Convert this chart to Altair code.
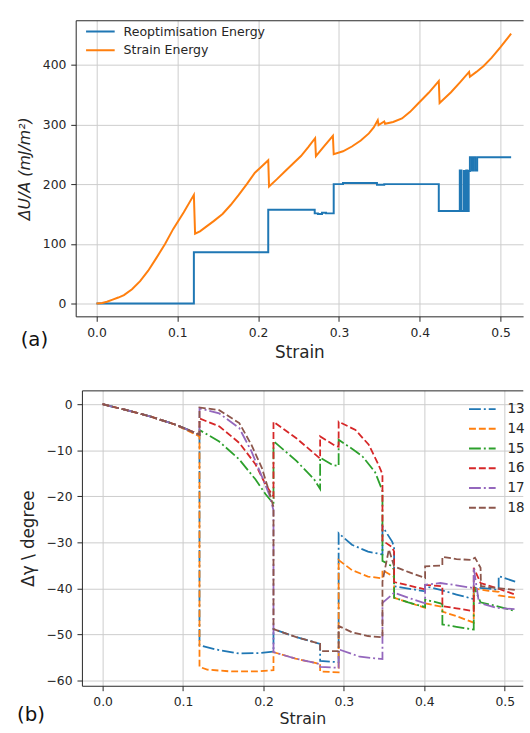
import altair as alt
import pandas as pd

# ---------------- panel (a) ----------------
reopt_x = [0.0, 0.1205, 0.1205, 0.2125, 0.2125, 0.27, 0.27, 0.274, 0.274, 0.279, 0.279, 0.284,
           0.284, 0.2935, 0.2935, 0.305, 0.305, 0.347, 0.347, 0.356, 0.356, 0.4235, 0.4235, 0.4495,
           0.4495, 0.4515, 0.4515, 0.4545, 0.4545, 0.456, 0.456, 0.4575, 0.4575, 0.459, 0.459, 0.4605,
           0.4605, 0.462, 0.462, 0.4645, 0.4645, 0.466, 0.466, 0.4685, 0.4685, 0.471, 0.471, 0.513]
reopt_y = [0, 0, 86, 86, 157, 157, 151, 151, 150, 150, 152, 152,
           151, 151, 200, 200, 202, 202, 199, 199, 200, 200, 155, 155,
           223, 223, 155, 155, 222, 222, 155, 155, 223, 223, 155, 155,
           222, 222, 245, 245, 223, 223, 245, 245, 223, 223, 245, 245]

strain_x = [0.0, 0.007, 0.013, 0.02, 0.027, 0.034, 0.044, 0.054, 0.064, 0.074, 0.085, 0.095,
            0.108, 0.1205, 0.122, 0.128, 0.135, 0.145, 0.156, 0.166, 0.176, 0.186, 0.196, 0.204,
            0.2125, 0.2135, 0.223, 0.233, 0.243, 0.253, 0.262, 0.2705, 0.2715, 0.282, 0.2925,
            0.2935, 0.305, 0.316, 0.327, 0.337, 0.343, 0.348, 0.349, 0.356, 0.357, 0.367, 0.378,
            0.388, 0.398, 0.411, 0.4235, 0.4245, 0.4386, 0.45, 0.461, 0.462, 0.47, 0.479, 0.489,
            0.4996, 0.513]
strain_y = [0, 1, 3, 6.5, 10, 14, 24, 37.5, 55, 76, 100, 125,
            153, 182, 117, 121, 128, 138, 150, 165, 182, 200, 219, 229,
            240, 196, 208, 221, 234, 247, 262, 277, 247, 264, 281,
            250, 255, 263, 273, 285, 295, 307, 299, 305, 301, 304, 310,
            321, 335, 353, 372.5, 336, 354, 371, 388, 380, 388, 398, 412,
            429, 452]

top_names = ["Reoptimisation Energy", "Strain Energy"]
top_colors = ["#1f77b4", "#ff7f0e"]

# ---------------- panel (b) ----------------
b_names = ["13", "14", "15", "16", "17", "18"]
b_colors = ["#1f77b4", "#ff7f0e", "#2ca02c", "#d62728", "#9467bd", "#8c564b"]

s13_x = [0, 0.03, 0.06, 0.09, 0.1205, 0.1205, 0.14, 0.17, 0.195, 0.2125, 0.2125, 0.24, 0.2705,
         0.2705, 0.2935, 0.2935, 0.31, 0.33, 0.348, 0.348, 0.36, 0.3625, 0.3625, 0.38, 0.401,
         0.401, 0.42, 0.44, 0.4615, 0.4615, 0.48, 0.4925, 0.4925, 0.513]
s13_y = [0, -1.3, -2.7, -4.4, -6.6, -52.3, -53.2, -54.1, -54.0, -53.7, -48.8, -50.5, -52.0,
         -55.7, -56.0, -28.0, -30.5, -32.0, -32.6, -26.5, -29.8, -31.0, -39.5, -40.0, -40.6,
         -39.5, -40.3, -41.3, -42.3, -39.8, -40.0, -40.3, -37.3, -38.5]

s14_x = [0, 0.03, 0.06, 0.09, 0.1205, 0.1205, 0.13, 0.16, 0.19, 0.2125, 0.2125, 0.24, 0.2705,
         0.2705, 0.2935, 0.2935, 0.31, 0.33, 0.348, 0.348, 0.3625, 0.3625, 0.38, 0.401, 0.401,
         0.4225, 0.4225, 0.44, 0.4615, 0.4615, 0.48, 0.4925, 0.4925, 0.513]
s14_y = [0, -1.3, -2.7, -4.4, -7.0, -57.0, -57.6, -58.0, -58.0, -57.7, -53.8, -55.2, -56.4,
         -58.0, -58.2, -33.8, -36.0, -37.4, -37.8, -36.0, -37.5, -42.0, -43.0, -44.2, -43.2,
         -44.0, -45.0, -46.0, -47.4, -40.0, -40.5, -40.7, -41.5, -42.0]

s15_x = [0, 0.03, 0.06, 0.09, 0.1205, 0.1205, 0.145, 0.17, 0.19, 0.2025, 0.2125, 0.2125, 0.241,
         0.263, 0.2705, 0.2705, 0.286, 0.2935, 0.2935, 0.3145, 0.323, 0.339, 0.348, 0.348, 0.36,
         0.3625, 0.3625, 0.38, 0.401, 0.401, 0.42, 0.4225, 0.4225, 0.44, 0.4615, 0.4615, 0.47,
         0.49, 0.513]
s15_y = [0, -1.3, -2.7, -4.4, -6.6, -5.6, -8.1, -12.0, -16.3, -19.5, -21.6, -8.0, -12.3,
         -16.3, -18.4, -11.6, -13.2, -13.4, -7.7, -10.2, -11.3, -14.8, -18.8, -34.0, -35.2,
         -36.0, -42.0, -43.0, -44.0, -42.4, -43.2, -43.4, -47.8, -48.3, -48.9, -39.5, -43.0,
         -43.8, -44.9]

s16_x = [0, 0.03, 0.06, 0.09, 0.1205, 0.1205, 0.145, 0.17, 0.19, 0.2025, 0.2125, 0.2125, 0.241,
         0.2705, 0.2705, 0.29, 0.2935, 0.2935, 0.3145, 0.331, 0.343, 0.348, 0.348, 0.36, 0.3625,
         0.3625, 0.38, 0.401, 0.401, 0.4225, 0.4225, 0.44, 0.4615, 0.4615, 0.47, 0.49, 0.513]
s16_y = [0, -1.3, -2.7, -4.4, -6.6, -3.1, -4.8, -8.4, -13.0, -17.4, -20.0, -3.8, -7.4,
         -11.8, -7.0, -9.1, -9.2, -3.8, -5.6, -8.8, -13.1, -15.2, -29.6, -31.0, -32.0,
         -38.6, -39.3, -40.2, -39.2, -39.5, -43.8, -44.3, -44.9, -35.5, -38.8, -39.9, -41.3]

s17_x = [0, 0.03, 0.06, 0.09, 0.1205, 0.1205, 0.145, 0.17, 0.185, 0.196, 0.207, 0.2125, 0.2125,
         0.24, 0.2705, 0.2705, 0.2935, 0.2935, 0.32, 0.348, 0.348, 0.36, 0.3625, 0.38, 0.401,
         0.401, 0.42, 0.44, 0.4615, 0.4615, 0.468, 0.49, 0.513]
s17_y = [0, -1.3, -2.7, -4.4, -6.6, -0.9, -2.0, -5.2, -10.2, -14.8, -19.5, -23.0, -53.8,
         -55.2, -56.4, -57.0, -57.2, -53.2, -54.8, -55.3, -43.1, -41.3, -40.9, -42.0, -43.2,
         -39.2, -38.8, -39.3, -39.9, -35.5, -43.1, -44.2, -44.5]

s18_x = [0, 0.03, 0.06, 0.09, 0.1205, 0.1205, 0.145, 0.17, 0.185, 0.198, 0.208, 0.2125, 0.2125,
         0.24, 0.2705, 0.2705, 0.2935, 0.2935, 0.31, 0.33, 0.348, 0.348, 0.356, 0.3625, 0.38,
         0.401, 0.401, 0.4225, 0.4225, 0.44, 0.458, 0.463, 0.47, 0.4705, 0.49, 0.513]
s18_y = [0, -1.3, -2.7, -4.4, -6.6, -0.7, -1.3, -4.1, -8.8, -13.8, -19.5, -22.3, -48.8,
         -50.5, -52.0, -53.6, -53.6, -48.1, -49.5, -50.3, -50.6, -38.5, -31.5, -35.2, -36.4,
         -37.7, -35.2, -35.0, -33.1, -33.6, -33.8, -33.3, -35.5, -39.5, -39.9, -40.3]

x_ticks = [0.0, 0.1, 0.2, 0.3, 0.4, 0.5]
top_y_ticks = [0, 100, 200, 300, 400]
b_y_ticks = [0, -10, -20, -30, -40, -50, -60]

# ---------------- tables ----------------
rows = []
for name, xs, ys in [(top_names[0], reopt_x, reopt_y), (top_names[1], strain_x, strain_y)]:
    for i, (a, b) in enumerate(zip(xs, ys)):
        rows.append({"energy_kind": name, "strain": a, "energy": b, "i": i})
top_df = pd.DataFrame(rows)

rows = []
for name, xs, ys in zip(b_names, [s13_x, s14_x, s15_x, s16_x, s17_x, s18_x],
                        [s13_y, s14_y, s15_y, s16_y, s17_y, s18_y]):
    for i, (a, b) in enumerate(zip(xs, ys)):
        rows.append({"curve": name, "strain": a, "gamma": b, "i": i})
b_df = pd.DataFrame(rows)

FONT = "DejaVu Sans"
TXT = "#262626"

# shared scales / axes per panel
top_xs = alt.Scale(domain=[-0.0257, 0.5278], range=[-6.3, 447], nice=False, zero=False)
top_ys = alt.Scale(domain=[-21.5, 474.5], nice=False, zero=False)
b_xs = alt.Scale(domain=[-0.0257, 0.5225], nice=False, zero=False)
b_ys = alt.Scale(domain=[-61.1, 3.0], nice=False, zero=False)

top_y_axis = alt.Axis(values=top_y_ticks, title="ΔU/A  (mJ/m²)", titleFontSize=16,
                      titleFontStyle="italic", titlePadding=9.6, offset=6.3)
b_y_axis = alt.Axis(values=b_y_ticks, title="Δγ \\ degree", titleFontSize=17, titlePadding=9)
frame_axis = alt.Axis(orient="top", labels=False, ticks=False, grid=False, domain=True, title=None)

top_lines = alt.Chart(top_df).mark_line(strokeWidth=2).encode(
    x=alt.X("strain:Q", scale=top_xs,
            axis=alt.Axis(values=x_ticks, format=".1f", title="Strain", titlePadding=6)),
    y=alt.Y("energy:Q", scale=top_ys, axis=top_y_axis),
    color=alt.Color("energy_kind:N",
                    scale=alt.Scale(domain=top_names, range=top_colors),
                    legend=alt.Legend(title=None, orient="none", legendX=3.2, legendY=4,
                                      symbolType="stroke", symbolSize=841, symbolStrokeWidth=2,
                                      labelFontSize=12.7, labelOffset=8, clipHeight=15,
                                      rowPadding=4, padding=0)),
    order=alt.Order("i:Q"),
)
top_frame = alt.Chart(top_df).mark_line(opacity=0).encode(
    x=alt.X("strain:Q", scale=top_xs, axis=frame_axis),
    y=alt.Y("energy:Q", scale=top_ys, axis=top_y_axis),
    detail="energy_kind:N",
    order=alt.Order("i:Q"),
)
top = alt.layer(top_lines, top_frame).resolve_axis(x="independent").properties(
    width=447, height=300,
    title=alt.TitleParams("(a)", orient="bottom", anchor="start", frame="group",
                          dx=-62.1, dy=-34, fontSize=20),
)

dash_range = [[12, 3, 2, 3], [7, 3], [12, 3, 2, 3], [7, 3], [12, 3, 2, 3], [7, 3]]
b_legend = alt.Legend(title=None, orient="none", legendX=391.2, legendY=11,
                      symbolType="stroke", symbolSize=729, symbolStrokeWidth=2,
                      labelFontSize=13.6, labelOffset=11, clipHeight=16,
                      rowPadding=4, padding=0)

b_lines = alt.Chart(b_df).mark_line(strokeWidth=1.8).encode(
    x=alt.X("strain:Q", scale=b_xs,
            axis=alt.Axis(values=x_ticks, format=".1f", title="Strain", titlePadding=3,
                          titleFontSize=16)),
    y=alt.Y("gamma:Q", scale=b_ys, axis=b_y_axis),
    color=alt.Color("curve:N", scale=alt.Scale(domain=b_names, range=b_colors),
                    legend=b_legend),
    strokeDash=alt.StrokeDash("curve:N", scale=alt.Scale(domain=b_names, range=dash_range),
                              legend=b_legend),
    order=alt.Order("i:Q"),
)
b_frame = alt.Chart(b_df).mark_line(opacity=0).encode(
    x=alt.X("strain:Q", scale=b_xs, axis=frame_axis),
    y=alt.Y("gamma:Q", scale=b_ys, axis=b_y_axis),
    detail="curve:N",
    order=alt.Order("i:Q"),
)
bottom = alt.layer(b_lines, b_frame).resolve_axis(x="independent").properties(
    width=446.7, height=299.3,
    title=alt.TitleParams("\u2009(b)", orient="bottom", anchor="start", frame="group",
                          dx=-65.8, dy=-26, fontSize=20),
)

chart = alt.vconcat(top, bottom, spacing=30).resolve_scale(
    color="independent", strokeDash="independent"
).resolve_legend(
    color="independent", strokeDash="independent"
).properties(
    padding={"left": 17, "top": 15.7, "right": 0, "bottom": 0},
    background="white",
).configure_view(
    strokeWidth=0
).configure_axis(
    grid=True, gridColor="#cccccc", gridWidth=1,
    domain=True, domainColor=TXT, domainWidth=1,
    tickColor=TXT, tickSize=5, tickWidth=1, labelPadding=5,
    labelFont=FONT, labelFontSize=12.5, labelColor=TXT,
    titleFont=FONT, titleFontSize=17, titleFontWeight="normal", titleColor=TXT,
    labelOverlap=False,
).configure_legend(
    labelFont=FONT, labelColor=TXT,
).configure_title(
    font=FONT, fontWeight="normal", color="#111111",
)

chart.save("out.html", embed_options={"renderer": "svg", "actions": False})
